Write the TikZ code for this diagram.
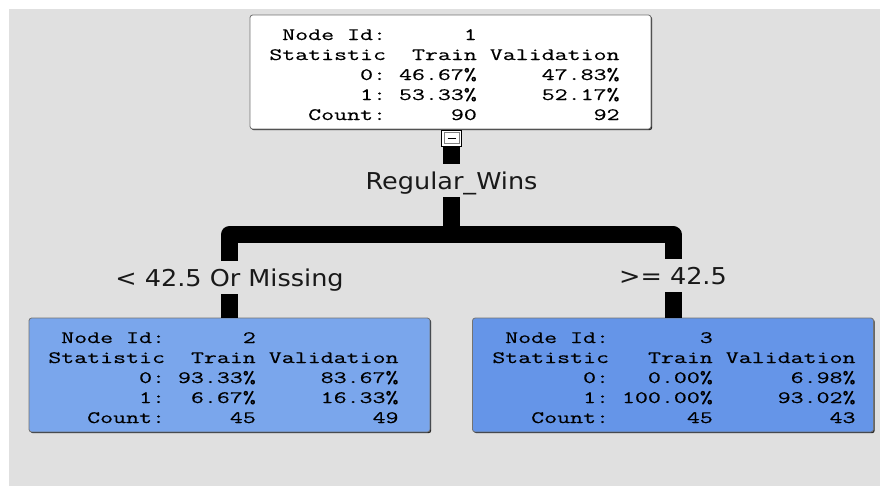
\documentclass[tikz,border=0pt]{standalone}
\usepackage{fontspec}
\usetikzlibrary{shadows}
\newfontfamily\boxfont[FakeStretch=1.45,FakeBold=0.4]{Latin Modern Mono}
\newfontfamily\labfont[FakeStretch=1.1]{DejaVu Sans}
\definecolor{bgc}{HTML}{E0E0E0}
\definecolor{leafA}{HTML}{7AA6EC}
\definecolor{leafB}{HTML}{6595E8}
\begin{document}
\begin{tikzpicture}[x=0.75pt,y=-0.75pt,
  treebox/.style={draw=black!55, line width=0.6pt, rounded corners=2pt,
    minimum width=300.75pt, minimum height=85.5pt, inner sep=0pt,
    drop shadow={shadow xshift=0.9pt, shadow yshift=-0.9pt, fill=black!85, opacity=1}},
  tabtext/.style={inner sep=0pt, anchor=base west, text=black,
    font=\boxfont\fontsize{13.03}{15}\selectfont},
  lab/.style={inner xsep=2pt, inner ysep=6pt, text height=12.4pt, text depth=0pt,
    anchor=base, font=\labfont\fontsize{17.4}{20}\selectfont, text=black!90},
  bar/.style={line width=12.75pt, black, line join=round, line cap=butt},
  minusbox/.style={draw=black, fill=white, line width=0.6pt, inner sep=0pt,
    minimum width=15pt, minimum height=12.5pt}
]
\useasboundingbox (0,0) rectangle (880,486);
\fill[white] (0,0) rectangle (880,486);
\fill[bgc] (9,9) rectangle (880,486);

% boxes
\node[treebox, fill=white] (root) at (450.5,72) {};
\node[treebox, fill=leafA] (left) at (229.5,375) {};
\node[treebox, fill=leafB] (right) at (673,375) {};

\node[tabtext] (t1) at (269,40) {\begin{tabular}[t]{@{}r@{\phantom{0}}r@{\phantom{0}}r@{}}
Node Id: & 1 & \\
Statistic & Train & Validation\\
0: & 46.67\% & 47.83\%\\
1: & 53.33\% & 52.17\%\\
Count: & 90 & 92
\end{tabular}};
\node[tabtext] (t2) at (48,343) {\begin{tabular}[t]{@{}r@{\phantom{0}}r@{\phantom{0}}r@{}}
Node Id: & 2 & \\
Statistic & Train & Validation\\
0: & 93.33\% & 83.67\%\\
1: & 6.67\% & 16.33\%\\
Count: & 45 & 49
\end{tabular}};
\node[tabtext] (t3) at (492,343) {\begin{tabular}[t]{@{}r@{\phantom{0}}r@{\phantom{0}}r@{}}
Node Id: & 3 & \\
Statistic & Train & Validation\\
0: & 0.00\% & 6.98\%\\
1: & 100.00\% & 93.02\%\\
Count: & 45 & 43
\end{tabular}};

% collapse button
\node[minusbox] (minus) at (451.5,138.5) {};
\draw[black!50, line width=0.5pt] ([xshift=2.2pt,yshift=-2pt]minus.north west) rectangle ([xshift=-2.2pt,yshift=2.6pt]minus.south east);
\draw[black, line width=0.9pt] ([xshift=-3pt]minus.center) -- ([xshift=3pt]minus.center);

% labels
\node[lab] (reg) at (451.5,189) {Regular\_Wins};
\node[lab] (ll) at (229.5,286) {< 42.5 Or Missing};
\node[lab] (rl) at (673,284) {>= 42.5};
\coordinate (split) at (451.5,234.5);

% connectors
\draw[bar] (minus.south) -- (reg.north);
\draw[bar] (reg.south) -- (split);
\draw[bar] (split) -| (ll.north);
\draw[bar] (split) -| (rl.north);
\draw[bar] (ll.south) -- (left.north);
\draw[bar] (rl.south) -- (right.north);
\end{tikzpicture}
\end{document}
